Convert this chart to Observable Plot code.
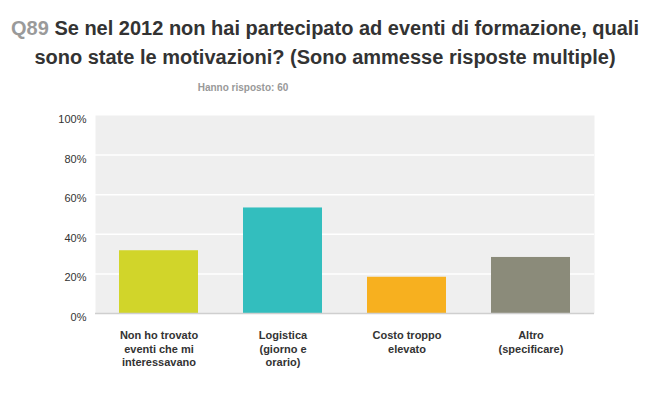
<!DOCTYPE html>
<html>
<head>
<meta charset="utf-8">
<script src="https://cdn.jsdelivr.net/npm/d3@7"></script>
<script src="https://cdn.jsdelivr.net/npm/@observablehq/plot@0.6"></script>
<style>
  html, body { margin: 0; padding: 0; background: #fff; }
  body { width: 650px; height: 399px; overflow: hidden; font-family: "Liberation Sans", Arial, sans-serif; }
  #header { position: relative; width: 650px; height: 100px; }
  #title { position: absolute; left: 0; top: 14px; width: 650px; text-align: center; font-size: 20px; font-weight: bold; line-height: 29px; color: #333; }
  #title .q { color: #9a9a9a; }
  #subtitle { position: absolute; left: 143px; top: 82px; width: 200px; text-align: center; font-size: 10px; font-weight: bold; color: #999; }
</style>
</head>
<body>
<div id="header">
  <div id="title"><span class="q">Q89</span> Se nel 2012 non hai partecipato ad eventi di formazione, quali<br>sono state le motivazioni? (Sono ammesse risposte multiple)</div>
  <div id="subtitle">Hanno risposto: 60</div>
</div>
<div id="chart"></div>
<script>
const categories = [
  "Non ho trovato eventi che mi interessavano",
  "Logistica (giorno e orario)",
  "Costo troppo elevato",
  "Altro (specificare)"
];
const tickLabels = [
  "Non ho trovato\neventi che mi\ninteressavano",
  "Logistica\n(giorno e\norario)",
  "Costo troppo\nelevato",
  "Altro\n(specificare)"
];
const values = [31.7, 53.3, 18.3, 28.3];
const colors = ["#d1d52a", "#33bebe", "#f7b01f", "#8b8b7a"];
const yTicks = [0, 20, 40, 60, 80, 100];

const data = categories.map((c, i) => ({category: c, value: values[i], color: colors[i]}));
const labelOf = new Map(categories.map((c, i) => [c, tickLabels[i]]));

const chart = Plot.plot({
  width: 650,
  height: 299,
  marginTop: 15,
  marginBottom: 86,
  marginLeft: 95,
  marginRight: 56,
  style: {fontFamily: "'Liberation Sans', Arial, sans-serif", background: "#fff", color: "#333"},
  x: {domain: categories, paddingInner: 0.36, paddingOuter: 0.18, label: null},
  y: {domain: [0, 100], label: null},
  marks: [
    Plot.frame({fill: "#efefef", stroke: null}),
    Plot.ruleY(yTicks.filter(d => d > 0 && d < 100), {stroke: "#fff", strokeWidth: 1.5}),
    Plot.barY(data, {x: "category", y: "value", fill: "color"}),
    Plot.ruleY([0], {stroke: "#cfcfcf", strokeWidth: 1.5}),
    Plot.ruleX([0], {frameAnchor: "left", stroke: "#d8d8d8", strokeWidth: 2}),
    Plot.axisY({ticks: yTicks, tickSize: 0, tickPadding: 9, dy: 4, tickFormat: d => d + "%", fontSize: 11, fill: "#333", label: null}),
    Plot.axisX({tickSize: 0, tickPadding: 16, tickFormat: d => labelOf.get(d), fontSize: 11, fontWeight: "bold", fill: "#333", lineHeight: 1.23, label: null})
  ]
});
document.getElementById("chart").appendChild(chart);
</script>
</body>
</html>
